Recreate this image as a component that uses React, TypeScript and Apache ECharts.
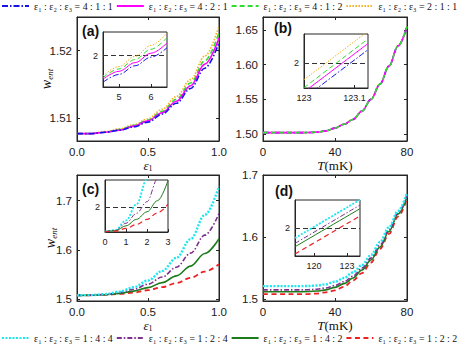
import React, { useEffect, useRef } from "react";
import * as echarts from "echarts";

// ---------- names ----------
const N411 = "ε₁ : ε₂ : ε₃ = 4 : 1 : 1";
const N421 = "ε₁ : ε₂ : ε₃ = 4 : 2 : 1";
const N412 = "ε₁ : ε₂ : ε₃ = 4 : 1 : 2";
const N211 = "ε₁ : ε₂ : ε₃ = 2 : 1 : 1";
const N144 = "ε₁ : ε₂ : ε₃ = 1 : 4 : 4";
const N124 = "ε₁ : ε₂ : ε₃ = 1 : 2 : 4";
const N142 = "ε₁ : ε₂ : ε₃ = 1 : 4 : 2";
const N122 = "ε₁ : ε₂ : ε₃ = 1 : 2 : 2";
const topNames = [N411, N421, N412, N211];
const bottomNames = [N144, N124, N142, N122];

// ---------- panel (a) ----------
const aEps = [0, 0.1, 0.2, 0.3, 0.4, 0.5, 0.6, 0.7, 0.8, 0.9, 1.0];
const a411 = [1.5077, 1.5077, 1.5079, 1.5082, 1.5087, 1.5094, 1.5106, 1.5122, 1.5144, 1.5174, 1.5212];
const a421 = [1.5077, 1.5077, 1.5079, 1.5082, 1.5088, 1.5096, 1.5108, 1.5125, 1.5148, 1.518, 1.5219];
const a412 = [1.5077, 1.5077, 1.5079, 1.5083, 1.5089, 1.5097, 1.511, 1.5128, 1.5152, 1.5185, 1.5227];
const a211 = [1.5077, 1.5077, 1.508, 1.5084, 1.509, 1.5099, 1.5113, 1.5132, 1.5157, 1.5192, 1.5237];
const aTicksX = [0, 0.5, 1];
const aTicksY = [1.51, 1.52];
// inset (a)
const aInX = [4.5, 5, 5.5, 6, 6.5];
const aIn411 = [1.66, 1.76, 1.87, 1.98, 2.1];
const aIn421 = [1.7, 1.8, 1.91, 2.03, 2.16];
const aIn412 = [1.72, 1.83, 1.95, 2.08, 2.23];
const aIn211 = [1.74, 1.86, 1.99, 2.13, 2.29];
const aInTicksX = [5, 6];

// ---------- panel (b) ----------
const bT = [0, 10, 20, 25, 30, 35, 40, 45, 50, 55, 60, 65, 70, 75, 80];
const b411 = [1.502, 1.502, 1.502, 1.5021, 1.5027, 1.5045, 1.5085, 1.514, 1.521, 1.533, 1.55, 1.572, 1.598, 1.627, 1.655];
const b421 = [1.502, 1.502, 1.502, 1.5021, 1.5027, 1.5045, 1.5085, 1.514, 1.521, 1.533, 1.55, 1.572, 1.598, 1.627, 1.655];
const b412 = [1.502, 1.502, 1.502, 1.5021, 1.5027, 1.5045, 1.5085, 1.514, 1.521, 1.533, 1.55, 1.572, 1.598, 1.627, 1.655];
const b211 = [1.502, 1.502, 1.502, 1.5021, 1.5027, 1.5045, 1.5085, 1.514, 1.521, 1.533, 1.55, 1.572, 1.598, 1.627, 1.655];
const bTicksX = [0, 40, 80];
const bTicksY = [1.5, 1.55, 1.6, 1.65];
// inset (b)
const bInX = [123, 123.127];
const bIn411 = [1.887, 2.044];
const bIn421 = [1.907, 2.064];
const bIn412 = [1.921, 2.079];
const bIn211 = [1.947, 2.104];
const bInTicksX = [123, 123.1];

// ---------- panel (c) ----------
const cEps = [0, 0.1, 0.2, 0.3, 0.4, 0.5, 0.6, 0.7, 0.8, 0.9, 1.0];
const c144 = [1.508, 1.5085, 1.5105, 1.5155, 1.5245, 1.538, 1.5575, 1.584, 1.622, 1.671, 1.729];
const c124 = [1.508, 1.5084, 1.5099, 1.5136, 1.5204, 1.5305, 1.5451, 1.565, 1.5935, 1.63, 1.674];
const c142 = [1.508, 1.5083, 1.5093, 1.5119, 1.5166, 1.5236, 1.5337, 1.5475, 1.5673, 1.5928, 1.623];
const c122 = [1.508, 1.5082, 1.509, 1.5108, 1.5138, 1.5184, 1.5246, 1.533, 1.5434, 1.5562, 1.571];
const cTicksX = [0, 0.5, 1];
const cTicksY = [1.5, 1.6, 1.7];
// inset (c)
const cInX = [0, 0.5, 1, 1.5, 2, 2.5, 3];
const cIn144 = [1.508, 1.539, 1.729, 2.05, 2.55, 3.2, 4.0];
const cIn124 = [1.508, 1.532, 1.674, 1.87, 2.1, 2.55, 3.1];
const cIn142 = [1.508, 1.525, 1.623, 1.75, 1.9, 2.12, 2.52];
const cIn122 = [1.508, 1.518, 1.571, 1.65, 1.75, 1.88, 2.05];
const cInTicksX = [0, 1, 2, 3];

// ---------- panel (d) ----------
const dT = [0, 10, 20, 25, 30, 35, 40, 45, 50, 55, 60, 65, 70, 75, 80];
const d144 = [1.521, 1.521, 1.521, 1.5212, 1.522, 1.524, 1.528, 1.534, 1.543, 1.555, 1.571, 1.592, 1.616, 1.642, 1.671];
const d124 = [1.515, 1.515, 1.515, 1.5152, 1.516, 1.518, 1.522, 1.528, 1.537, 1.55, 1.566, 1.587, 1.612, 1.639, 1.668];
const d142 = [1.512, 1.512, 1.512, 1.5122, 1.513, 1.515, 1.519, 1.525, 1.534, 1.547, 1.563, 1.584, 1.609, 1.637, 1.666];
const d122 = [1.508, 1.508, 1.508, 1.5082, 1.509, 1.511, 1.514, 1.52, 1.53, 1.542, 1.559, 1.581, 1.605, 1.633, 1.662];
const dTicksX = [0, 40, 80];
const dTicksY = [1.5, 1.6, 1.7];
// inset (d)
const dInX = [118.25, 124.2];
const dIn144 = [1.964, 2.101];
const dIn124 = [1.945, 2.082];
const dIn142 = [1.933, 2.069];
const dIn122 = [1.907, 2.043];
const dInTicksX = [120, 123];

const insetTicksY = [2];
const thresholdY = 2;

// ---------- styles ----------
const AX = "#262626";
const SANS = "Liberation Sans, Arial, Helvetica, sans-serif";
const SERIF = "Liberation Serif, Times New Roman, serif";

const STY: Record<string, { color: string; type: any; width: number }> = {
  [N411]: { color: "#1414e8", type: [6, 2, 1.5, 2], width: 1.6 },
  [N421]: { color: "#ff00ff", type: "solid", width: 1.6 },
  [N412]: { color: "#2fdc2f", type: [5, 3], width: 1.6 },
  [N211]: { color: "#f2b01e", type: [1.5, 1.5], width: 1.6 },
  [N144]: { color: "#1de6f0", type: [2, 1.5], width: 2.4 },
  [N124]: { color: "#7e2f8e", type: [5, 2, 1.5, 2], width: 1.6 },
  [N142]: { color: "#1c7c1c", type: "solid", width: 1.6 },
  [N122]: { color: "#ee2024", type: [5, 3.5], width: 1.8 },
};

function mkSeries(name: string, xs: number[], ys: number[], idx: number, inset: boolean, mark?: boolean) {
  const st = STY[name];
  const s: any = {
    type: "line",
    name,
    xAxisIndex: idx,
    yAxisIndex: idx,
    data: xs.map((x, i) => [x, ys[i]]),
    smooth: 0.35,
    smoothMonotone: "x",
    symbol: "none",
    showSymbol: false,
    clip: true,
    z: inset ? 6 : 3,
    itemStyle: { color: st.color },
    lineStyle: { color: st.color, type: st.type, width: inset ? Math.max(1, st.width - 0.6) : st.width },
    emphasis: { disabled: true },
  };
  if (mark) {
    s.markLine = {
      silent: true,
      symbol: ["none", "none"],
      label: { show: false },
      lineStyle: { color: "#333", type: [5, 3], width: 1 },
      data: [{ yAxis: thresholdY }],
    };
  }
  return s;
}

function valAxis(
  gridIndex: number,
  min: number,
  max: number,
  ticks: number[],
  fmt: (v: number) => string,
  fontSize: number,
  position: string,
  showLabel: boolean,
  extra: any = {}
) {
  return {
    type: "value",
    gridIndex,
    min,
    max,
    position,
    axisLine: { show: true, onZero: false, lineStyle: { color: AX, width: 1 } },
    axisTick: { show: true, inside: true, length: 3, customValues: ticks, lineStyle: { color: AX } },
    axisLabel: {
      show: showLabel,
      customValues: ticks,
      formatter: fmt,
      fontSize,
      fontFamily: SANS,
      color: "#1a1a1a",
      margin: 5,
    },
    splitLine: { show: false },
    ...extra,
  };
}

const f0 = (v: number) => String(Math.round(v));
const f1 = (v: number) => v.toFixed(1);
const f2 = (v: number) => v.toFixed(2);
const fIn = (v: number) => String(Math.round(v * 10) / 10);

const epsName = {
  name: "{e|ε}{s|1}",
  nameLocation: "middle",
  nameGap: 17,
  nameTextStyle: {
    rich: {
      e: { fontFamily: SERIF, fontStyle: "italic", fontSize: 13, color: "#111" },
      s: { fontFamily: SERIF, fontSize: 8, color: "#111", padding: [6, 0, 0, 0] },
    },
  },
};
const tName = {
  name: "{t|T}{r|(mK)}",
  nameLocation: "middle",
  nameGap: 17,
  nameTextStyle: {
    rich: {
      t: { fontFamily: SERIF, fontStyle: "italic", fontSize: 13, color: "#111" },
      r: { fontFamily: SERIF, fontSize: 13, color: "#111" },
    },
  },
};
const wName = (gap: number) => ({
  name: "{w|w}{s|ent}",
  nameLocation: "middle",
  nameGap: gap,
  nameMoveOverlap: false,
  nameTextStyle: {
    rich: {
      w: { fontFamily: SERIF, fontStyle: "italic", fontSize: 14, color: "#111" },
      s: { fontFamily: SERIF, fontStyle: "italic", fontSize: 9, color: "#111", padding: [6, 0, 0, 0] },
    },
  },
});

function buildOption() {
  const grids = [
    { left: 77, top: 17, width: 142, height: 124 },
    { left: 263, top: 17, width: 144, height: 124 },
    { left: 77, top: 175, width: 142, height: 126 },
    { left: 263, top: 175, width: 144, height: 126 },
    { left: 103, top: 32, width: 64, height: 55 },
    { left: 304, top: 34, width: 64, height: 54 },
    { left: 105, top: 180, width: 63, height: 52 },
    { left: 295, top: 200, width: 65, height: 56 },
  ].map((g) => ({ ...g, show: true, borderColor: AX, borderWidth: 1, backgroundColor: "#fff" }));

  const LF = 11.5;
  const IF = 9;
  const xAxis: any[] = [
    valAxis(0, 0, 1, aTicksX, f1, LF, "bottom", true, epsName),
    valAxis(1, 0, 80, bTicksX, f0, LF, "bottom", true, tName),
    valAxis(2, 0, 1, cTicksX, f1, LF, "bottom", true, epsName),
    valAxis(3, 0, 80, dTicksX, f0, LF, "bottom", true, tName),
    valAxis(4, 4.5, 6.5, aInTicksX, fIn, IF, "bottom", true),
    valAxis(5, 123, 123.127, bInTicksX, fIn, IF, "bottom", true),
    valAxis(6, 0, 3, cInTicksX, fIn, IF, "bottom", true),
    valAxis(7, 118.25, 124.2, dInTicksX, fIn, IF, "bottom", true),
    valAxis(0, 0, 1, aTicksX, f1, LF, "top", false),
    valAxis(1, 0, 80, bTicksX, f0, LF, "top", false),
    valAxis(2, 0, 1, cTicksX, f1, LF, "top", false),
    valAxis(3, 0, 80, dTicksX, f0, LF, "top", false),
  ];
  const yAxis: any[] = [
    valAxis(0, 1.5066, 1.525, aTicksY, f2, LF, "left", true, wName(23)),
    valAxis(1, 1.4899, 1.6688, bTicksY, f2, LF, "left", true),
    valAxis(2, 1.4965, 1.752, cTicksY, f1, LF, "left", true, wName(19)),
    valAxis(3, 1.497, 1.7, dTicksY, f1, LF, "left", true),
    valAxis(4, 1.6, 2.3, insetTicksY, fIn, IF, "left", true),
    valAxis(5, 1.92, 2.095, insetTicksY, fIn, IF, "left", true),
    valAxis(6, 1.5, 2.53, insetTicksY, fIn, IF, "left", true),
    valAxis(7, 1.9, 2.1, insetTicksY, fIn, IF, "left", true),
    valAxis(0, 1.5066, 1.525, aTicksY, f2, LF, "right", false),
    valAxis(1, 1.4899, 1.6688, bTicksY, f2, LF, "right", false),
    valAxis(2, 1.4965, 1.752, cTicksY, f1, LF, "right", false),
    valAxis(3, 1.497, 1.7, dTicksY, f1, LF, "right", false),
  ];

  const series: any[] = [
    // (a)
    mkSeries(N211, aEps, a211, 0, false),
    mkSeries(N412, aEps, a412, 0, false),
    mkSeries(N421, aEps, a421, 0, false),
    mkSeries(N411, aEps, a411, 0, false),
    // (b)
    mkSeries(N211, bT, b211, 1, false),
    mkSeries(N411, bT, b411, 1, false),
    mkSeries(N421, bT, b421, 1, false),
    mkSeries(N412, bT, b412, 1, false),
    // (c)
    mkSeries(N122, cEps, c122, 2, false),
    mkSeries(N142, cEps, c142, 2, false),
    mkSeries(N124, cEps, c124, 2, false),
    mkSeries(N144, cEps, c144, 2, false),
    // (d)
    mkSeries(N122, dT, d122, 3, false),
    mkSeries(N142, dT, d142, 3, false),
    mkSeries(N124, dT, d124, 3, false),
    mkSeries(N144, dT, d144, 3, false),
    // insets
    mkSeries(N211, aInX, aIn211, 4, true, true),
    mkSeries(N412, aInX, aIn412, 4, true),
    mkSeries(N421, aInX, aIn421, 4, true),
    mkSeries(N411, aInX, aIn411, 4, true),
    mkSeries(N211, bInX, bIn211, 5, true, true),
    mkSeries(N412, bInX, bIn412, 5, true),
    mkSeries(N421, bInX, bIn421, 5, true),
    mkSeries(N411, bInX, bIn411, 5, true),
    mkSeries(N144, cInX, cIn144, 6, true, true),
    mkSeries(N124, cInX, cIn124, 6, true),
    mkSeries(N142, cInX, cIn142, 6, true),
    mkSeries(N122, cInX, cIn122, 6, true),
    mkSeries(N144, dInX, dIn144, 7, true, true),
    mkSeries(N124, dInX, dIn124, 7, true),
    mkSeries(N142, dInX, dIn142, 7, true),
    mkSeries(N122, dInX, dIn122, 7, true),
  ];

  const legendBase = {
    orient: "horizontal",
    left: 1,
    itemWidth: 27,
    itemHeight: 10,
    itemGap: 3,
    padding: 0,
    width: 474,
    selectedMode: false,
    itemStyle: { opacity: 0, borderWidth: 0 },
    textStyle: { fontFamily: SERIF, fontSize: 9.9, color: "#111" },
  };

  const label = (t: string, x: number, y: number) => ({
    type: "text",
    x,
    y,
    z: 20,
    style: { text: t, font: `bold 14px ${SANS}`, fill: "#111", verticalAlign: "middle" },
  });

  return {
    animation: false,
    backgroundColor: "#fff",
    grid: grids,
    xAxis,
    yAxis,
    series,
    legend: [
      { ...legendBase, top: 1, data: topNames },
      { ...legendBase, top: 333, data: bottomNames },
    ],
    graphic: [label("(a)", 82, 31), label("(b)", 274, 28), label("(c)", 82, 189), label("(d)", 275, 191)],
  };
}

export default function App() {
  const ref = useRef<HTMLDivElement>(null);
  useEffect(() => {
    if (!ref.current) return;
    const chart = echarts.init(ref.current, null, { renderer: "svg" });
    chart.setOption(buildOption() as any);
    return () => chart.dispose();
  }, []);
  return (
    <div
      ref={ref}
      style={{ position: "absolute", left: 0, top: 0, width: 474, height: 346, background: "#fff" }}
    />
  );
}
